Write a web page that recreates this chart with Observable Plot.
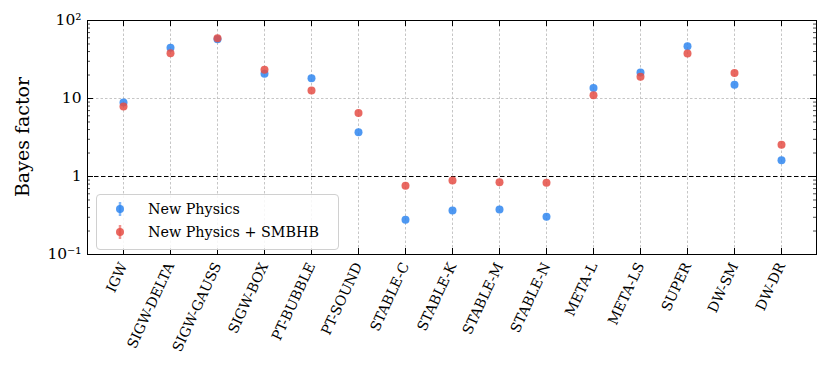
<!DOCTYPE html>
<html>
<head>
<meta charset="utf-8">
<script src="https://cdn.jsdelivr.net/npm/d3@7"></script>
<script src="https://cdn.jsdelivr.net/npm/@observablehq/plot@0.6"></script>
<style>
  html, body { margin: 0; padding: 0; background: #fff; }
  #wrap { position: relative; width: 830px; height: 374px; font-family: "DejaVu Serif", serif; }
  #ylab { position: absolute; left: 22px; top: 137px; transform: translate(-50%, -50%) rotate(-90deg); font-size: 19px; white-space: nowrap; color: #000; }
  #legend { position: absolute; left: 96px; top: 194px; width: 243px; height: 56px; box-sizing: border-box;
    border: 1px solid #d0d0d0; border-radius: 4px; background: rgba(255,255,255,0.85); font-size: 14.3px; }
  .row { position: absolute; left: 0; height: 20px; display: flex; align-items: center; }
  .row svg { margin-left: 17px; margin-right: 22px; }
</style>
</head>
<body>
<div id="wrap">
  <div id="chart"></div>
  <div id="ylab">Bayes factor</div>
  <div id="legend"></div>
</div>
<script>
const categories = ["IGW","SIGW-DELTA","SIGW-GAUSS","SIGW-BOX","PT-BUBBLE","PT-SOUND","STABLE-C","STABLE-K","STABLE-M","STABLE-N","META-L","META-LS","SUPER","DW-SM","DW-DR"];
const newPhysics =      [8.9, 44.7, 57.6, 20.7, 18.2, 3.7, 0.278, 0.367, 0.377, 0.304, 13.6, 21.5, 46.9, 15.0, 1.62];
const newPhysicsSMBHB = [7.9, 38.0, 59.0, 23.3, 12.7, 6.5, 0.76, 0.89, 0.845, 0.83, 11.0, 19.0, 37.8, 21.3, 2.55];
const seriesNames = ["New Physics", "New Physics + SMBHB"];
const seriesColors = ["#2f86f0", "#e54d45"];
const yMajorTicks = [0.1, 1, 10, 100];
const yTickLabels = ["10⁻¹", "1", "10", "10²"];

const yMinorTicks = [];
for (const d of [0.1, 1, 10]) for (let k = 2; k <= 9; k++) yMinorTicks.push(+(d * k).toPrecision(3));

const W = 830, H = 374, mL = 87, mR = 14, mT = 20, mB = 120;
const pw = W - mL - mR, ph = H - mT - mB;

const blue = categories.map((c, i) => ({cat: c, v: newPhysics[i]}));
const red = categories.map((c, i) => ({cat: c, v: newPhysicsSMBHB[i]}));

const chart = Plot.plot({
  width: W, height: H,
  marginLeft: mL, marginRight: mR, marginTop: mT, marginBottom: mB,
  style: {fontFamily: '"DejaVu Serif", serif', fontSize: "15px", color: "#000", background: "#fff"},
  x: {type: "point", domain: categories, padding: 0.7},
  y: {type: "log", domain: [0.1, 100]},
  marks: [
    Plot.ruleX(categories, {x: d => d, stroke: "#b8b8b8", strokeWidth: 0.8, strokeDasharray: "2.5,2"}),
    Plot.ruleY([10], {stroke: "#b8b8b8", strokeWidth: 0.8, strokeDasharray: "2.5,2"}),
    Plot.ruleY([1], {stroke: "#000", strokeWidth: 1.1, strokeDasharray: "4.5,2.5"}),
    // inward ticks
    Plot.ruleY(yMajorTicks, {y: d => d, insetRight: pw - 6, stroke: "#000"}),
    Plot.ruleY(yMajorTicks, {y: d => d, insetLeft: pw - 6, stroke: "#000"}),
    Plot.ruleY(yMinorTicks, {y: d => d, insetRight: pw - 3, stroke: "#000", strokeWidth: 0.7}),
    Plot.ruleY(yMinorTicks, {y: d => d, insetLeft: pw - 3, stroke: "#000", strokeWidth: 0.7}),
    Plot.ruleX(categories, {x: d => d, insetTop: ph - 6, stroke: "#000"}),
    Plot.ruleX(categories, {x: d => d, insetBottom: ph - 6, stroke: "#000"}),
    Plot.dot(blue, {x: "cat", y: "v", r: 4, fill: seriesColors[0], fillOpacity: 0.85, stroke: "none"}),
    Plot.dot(red, {x: "cat", y: "v", r: 4, fill: seriesColors[1], fillOpacity: 0.85, stroke: "none"}),
    Plot.frame({stroke: "#000", strokeWidth: 1}),
    Plot.axisY(yMajorTicks, {anchor: "left", tickSize: 0, tickPadding: 6, label: null,
      tickFormat: d => yTickLabels[yMajorTicks.indexOf(d)], fontSize: 15.5}),
    Plot.axisX({anchor: "bottom", tickSize: 0, tickPadding: 9, tickRotate: -65, label: null, fontSize: 14})
  ]
});
document.getElementById("chart").appendChild(chart);

const legend = document.getElementById("legend");
seriesNames.forEach((name, i) => {
  const row = document.createElement("div");
  row.className = "row";
  row.style.top = (i === 0 ? 4 : 27) + "px";
  row.innerHTML = `<svg width="12" height="20"><line x1="6" x2="6" y1="3" y2="17" stroke="${seriesColors[i]}" stroke-opacity="0.6" stroke-width="2.5"/><circle cx="6" cy="10" r="4" fill="${seriesColors[i]}" fill-opacity="0.85"/></svg><span>${name}</span>`;
  legend.appendChild(row);
});
</script>
</body>
</html>
